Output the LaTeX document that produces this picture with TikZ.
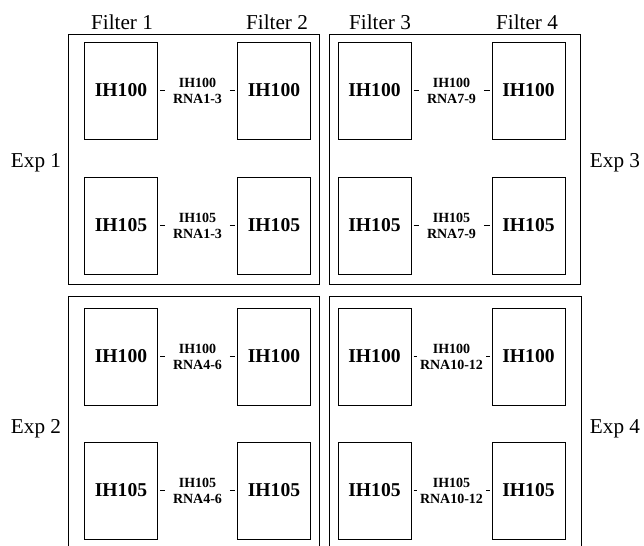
\documentclass[tikz,border=0pt]{standalone}
\usepackage{fontspec}
\setmainfont{Liberation Serif}
\usetikzlibrary{positioning,calc}

\begin{document}
\begin{tikzpicture}[
          x=0.5pt, y=-0.5pt,
          plate/.style={draw, line width=0.5pt, minimum width=36.5pt, minimum height=48.5pt, inner sep=0pt, font=\fontsize{9.8}{11}\selectfont\bfseries},
          pair/.style={align=center, inner sep=0.5pt, minimum width=30pt, font=\fontsize{7}{8}\selectfont\bfseries},
          tick/.style={line width=0.5pt, shorten <=1pt, shorten >=1pt},
          head/.style={anchor=base, inner sep=0pt, font=\fontsize{10.6}{12}\selectfont},
          frame/.style={line width=0.5pt},
        ]
          \useasboundingbox (0,0) rectangle (644,546);
          % panels
          \draw[frame] (68,34) rectangle (319,284);
          \draw[frame] (329,34) rectangle (580,284);
          \draw[frame] (68,546) |- (319,296) -- (319,546);
          \draw[frame] (329,546) |- (581,296) -- (581,546);
          % filter and experiment labels
          \node[head] (f1) at (122,30) {Filter 1};
          \node[head] (f2) at (277,30) {Filter 2};
          \node[head] (f3) at (380,30) {Filter 3};
          \node[head] (f4) at (527,30) {Filter 4};
          \node[head] (x1) at (36,167)  {Exp 1};
          \node[head] (x2) at (36,433)  {Exp 2};
          \node[head] (x3) at (615,167) {Exp 3};
          \node[head] (x4) at (615,433) {Exp 4};
          % Exp 1
          \node[plate] (a1) at (121,90.5) {IH100};
          \node[plate, right=39.5pt of a1] (b1) {IH100};
          \node[plate, below=18.5pt of a1] (a2) {IH105};
          \node[plate, below=18.5pt of b1] (b2) {IH105};
          \node[pair] (p1) at ($(a1)!.5!(b1)$) {IH100\\RNA1-3};
          \node[pair] (p2) at ($(a2)!.5!(b2)$) {IH105\\RNA1-3};
          % Exp 2
          \node[plate] (a3) at (121,356.5) {IH100};
          \node[plate, right=39.5pt of a3] (b3) {IH100};
          \node[plate, below=18pt of a3] (a4) {IH105};
          \node[plate, below=18pt of b3] (b4) {IH105};
          \node[pair] (p3) at ($(a3)!.5!(b3)$) {IH100\\RNA4-6};
          \node[pair] (p4) at ($(a4)!.5!(b4)$) {IH105\\RNA4-6};
          % Exp 3
          \node[plate] (c1) at (374.5,90.5) {IH100};
          \node[plate, right=40pt of c1] (d1) {IH100};
          \node[plate, below=18.5pt of c1] (c2) {IH105};
          \node[plate, below=18.5pt of d1] (d2) {IH105};
          \node[pair] (q1) at ($(c1)!.5!(d1)$) {IH100\\RNA7-9};
          \node[pair] (q2) at ($(c2)!.5!(d2)$) {IH105\\RNA7-9};
          % Exp 4
          \node[plate] (c3) at (374.5,356.5) {IH100};
          \node[plate, right=40pt of c3] (d3) {IH100};
          \node[plate, below=18pt of c3] (c4) {IH105};
          \node[plate, below=18pt of d3] (d4) {IH105};
          \node[pair] (q3) at ($(c3)!.5!(d3)$) {IH100\\RNA10-12};
          \node[pair] (q4) at ($(c4)!.5!(d4)$) {IH105\\RNA10-12};
          % dashes
          \draw[tick] (a1) -- (p1); \draw[tick] (p1) -- (b1);
          \draw[tick] (a2) -- (p2); \draw[tick] (p2) -- (b2);
          \draw[tick] (a3) -- (p3); \draw[tick] (p3) -- (b3);
          \draw[tick] (a4) -- (p4); \draw[tick] (p4) -- (b4);
          \draw[tick] (c1) -- (q1); \draw[tick] (q1) -- (d1);
          \draw[tick] (c2) -- (q2); \draw[tick] (q2) -- (d2);
          \draw[tick] (c3) -- (q3); \draw[tick] (q3) -- (d3);
          \draw[tick] (c4) -- (q4); \draw[tick] (q4) -- (d4);
        \end{tikzpicture}
\end{document}
